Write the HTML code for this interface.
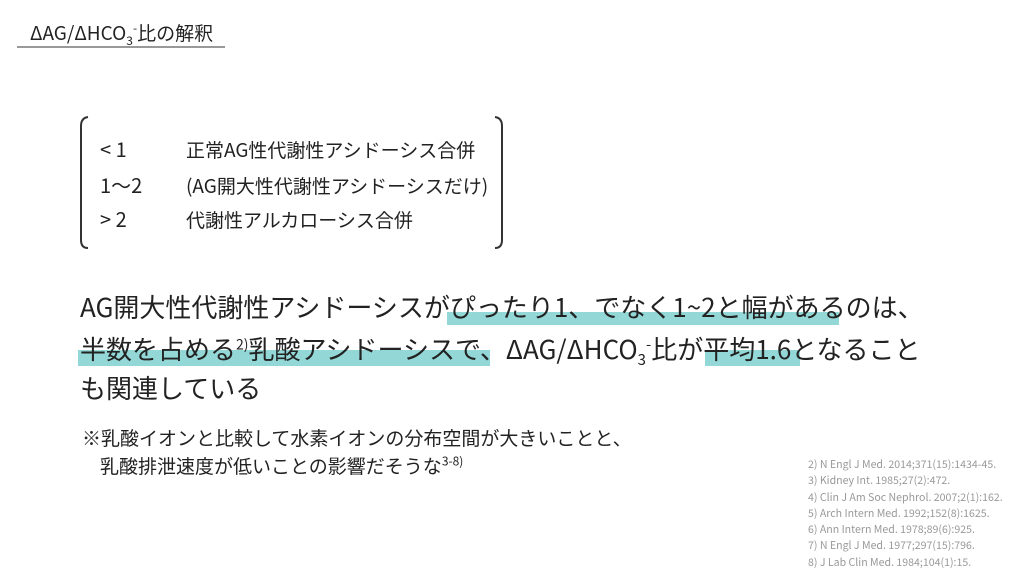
<!DOCTYPE html>
<html><head><meta charset="utf-8"><style>
body{margin:0;width:1024px;height:576px;background:#fff;position:relative;overflow:hidden;font-family:"Noto Sans CJK JP","Liberation Sans",sans-serif;color:#222}
.a{position:absolute;white-space:nowrap;line-height:1}
.hl{position:absolute;background:#93d8d7}
sup,sub{line-height:0}
</style></head><body>
<div class="a" style="left:30px;top:23px;font-size:19px;">ΔAG/ΔHCO<sub style="font-size:12px">3</sub><sup style="font-size:12px">-</sup>比の解釈</div>
<div class="a" style="left:17px;top:46px;width:208px;height:2px;background:#999"></div>
<svg class="a" style="left:0;top:0" width="1024" height="576">
<path d="M88 117 Q81 118 81 126 L81 240 Q81 248 88 248" fill="none" stroke="#333" stroke-width="2"/>
<path d="M495 117 Q502 118 502 126 L502 240 Q502 248 495 248" fill="none" stroke="#333" stroke-width="2"/>
</svg>
<div class="a" style="left:100px;top:139px;font-size:20px;">&lt; 1</div>
<div class="a" style="left:100px;top:175px;font-size:20px;">1〜2</div>
<div class="a" style="left:100px;top:209px;font-size:20px;">&gt; 2</div>
<div class="a" style="left:186px;top:140px;font-size:19px;">正常AG性代謝性アシドーシス合併</div>
<div class="a" style="left:186px;top:176px;font-size:19px;">(AG開大性代謝性アシドーシスだけ)</div>
<div class="a" style="left:186px;top:210px;font-size:19px;">代謝性アルカローシス合併</div>
<div class="hl" style="left:447px;top:312px;width:392px;height:13px"></div>
<div class="hl" style="left:78px;top:350px;width:412px;height:16px"></div>
<div class="hl" style="left:705px;top:350px;width:95px;height:16px"></div>
<div class="a" style="left:80px;top:294px;font-size:26px;">AG開大性代謝性アシドーシスがぴったり1、でなく1~2と幅があるのは、</div>
<div class="a" style="left:80px;top:336px;font-size:26px;">半数を占める<sup style="font-size:14px">2)</sup>乳酸アシドーシスで、ΔAG/ΔHCO<sub style="font-size:15px">3</sub><sup style="font-size:15px">-</sup>比が平均1.6となること</div>
<div class="a" style="left:80px;top:375px;font-size:26px;">も関連している</div>
<div class="a" style="left:82px;top:428px;font-size:19px;">※乳酸イオンと比較して水素イオンの分布空間が大きいことと、</div>
<div class="a" style="left:100px;top:456px;font-size:19px;">乳酸排泄速度が低いことの影響だそうな<sup style="font-size:12px">3-8)</sup></div>
<div class="a" style="left:808px;top:457px;font-size:10.6px;line-height:16.3px;color:#999">2) N Engl J Med. 2014;371(15):1434-45.<br>3) Kidney Int. 1985;27(2):472.<br>4) Clin J Am Soc Nephrol. 2007;2(1):162.<br>5) Arch Intern Med. 1992;152(8):1625.<br>6) Ann Intern Med. 1978;89(6):925.<br>7) N Engl J Med. 1977;297(15):796.<br>8) J Lab Clin Med. 1984;104(1):15.</div>
</body></html>
